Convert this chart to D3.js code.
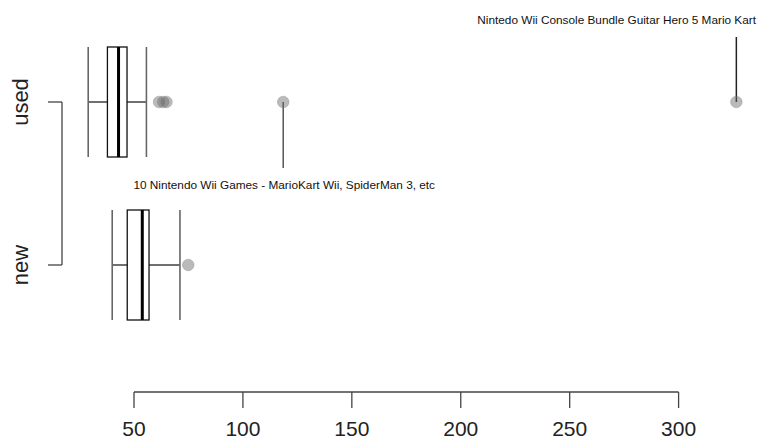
<!DOCTYPE html>
<html><head><meta charset="utf-8">
<script src="https://cdn.jsdelivr.net/npm/d3@7"></script>
<style>body{margin:0;background:#fff;overflow:hidden}svg{display:block}text{font-family:"Liberation Sans",Arial,sans-serif}</style>
</head><body><svg id="c" width="757" height="441"></svg>
<script>
const groups = ["used", "new"];
const lowerWhisker = [28.98, 40.0];
const q1 = [37.8, 46.9];
const median = [42.9, 53.8];
const q3 = [46.8, 56.9];
const upperWhisker = [55.7, 71.1];
const outliersUsed = [61.5, 63.4, 64.9, 118.5, 326.51];
const outliersNew = [74.9];
const xTicks = [50, 100, 150, 200, 250, 300];
const annotations = [
  {group: "used", value: 326.51, text: "Nintedo Wii Console Bundle Guitar Hero 5 Mario Kart", dir: -1},
  {group: "used", value: 118.5, text: "10 Nintendo Wii Games - MarioKart Wii, SpiderMan 3, etc", dir: 1}
];

const svg = d3.select("#c");
const x = d3.scaleLinear().domain([50, 300]).range([134, 678.6]);
const y = d3.scalePoint().domain(groups).range([102, 265]);
const half = 55;

annotations.forEach(a => {
  const cx = x(a.value), cy = y(a.group);
  if (a.dir < 0) {
    svg.append("line").attr("x1", cx).attr("x2", cx).attr("y1", cy).attr("y2", 37)
      .attr("stroke", "#222").attr("stroke-width", 1.5);
    svg.append("text").attr("x", 756).attr("y", 24).attr("text-anchor", "end")
      .attr("font-size", 11.8).attr("fill", "#111").text(a.text);
  } else {
    svg.append("line").attr("x1", cx).attr("x2", cx).attr("y1", cy).attr("y2", 168)
      .attr("stroke", "#555").attr("stroke-width", 1.5);
    svg.append("text").attr("x", cx + 1).attr("y", 189).attr("text-anchor", "middle")
      .attr("font-size", 11.8).attr("fill", "#111").text(a.text);
  }
});

groups.forEach((g, i) => {
  const cy = y(g);
  const gg = svg.append("g");
  gg.append("line").attr("x1", x(lowerWhisker[i])).attr("x2", x(q1[i])).attr("y1", cy).attr("y2", cy)
    .attr("stroke", "#222").attr("stroke-width", 1.3);
  gg.append("line").attr("x1", x(q3[i])).attr("x2", x(upperWhisker[i])).attr("y1", cy).attr("y2", cy)
    .attr("stroke", "#222").attr("stroke-width", 1.3);
  [lowerWhisker[i], upperWhisker[i]].forEach(v => {
    gg.append("line").attr("x1", x(v)).attr("x2", x(v)).attr("y1", cy - half).attr("y2", cy + half)
      .attr("stroke", "#666").attr("stroke-width", 1.6);
  });
  gg.append("rect").attr("x", x(q1[i])).attr("y", cy - half)
    .attr("width", x(q3[i]) - x(q1[i])).attr("height", 2 * half)
    .attr("fill", "none").attr("stroke", "#111").attr("stroke-width", 1.3);
  gg.append("line").attr("x1", x(median[i])).attr("x2", x(median[i])).attr("y1", cy - half).attr("y2", cy + half)
    .attr("stroke", "#000").attr("stroke-width", 3);
  const outs = i === 0 ? outliersUsed : outliersNew;
  gg.selectAll("circle").data(outs).join("circle")
    .attr("cx", d => x(d)).attr("cy", cy).attr("r", 5.8)
    .attr("fill", "#666").attr("fill-opacity", 0.45)
    .attr("stroke", "#888").attr("stroke-opacity", 0.4);
});

const axisY = 392;
svg.append("line").attr("x1", x(50)).attr("x2", x(300)).attr("y1", axisY).attr("y2", axisY)
  .attr("stroke", "#444").attr("stroke-width", 1.3);
svg.selectAll(".xt").data(xTicks).join("line").attr("class", "xt")
  .attr("x1", d => x(d)).attr("x2", d => x(d)).attr("y1", axisY).attr("y2", 408)
  .attr("stroke", "#444").attr("stroke-width", 1.3);
svg.selectAll(".xl").data(xTicks).join("text").attr("class", "xl")
  .attr("x", d => x(d)).attr("y", 436).attr("text-anchor", "middle")
  .attr("font-size", 21).attr("fill", "#222").text(d => d);

const axX = 62;
svg.append("line").attr("x1", axX).attr("x2", axX).attr("y1", y("used")).attr("y2", y("new"))
  .attr("stroke", "#444").attr("stroke-width", 1.3);
groups.forEach(g => {
  svg.append("line").attr("x1", 48).attr("x2", axX).attr("y1", y(g)).attr("y2", y(g))
    .attr("stroke", "#444").attr("stroke-width", 1.3);
  svg.append("text").attr("transform", `translate(28,${y(g)}) rotate(-90)`)
    .attr("text-anchor", "middle").attr("font-size", 22).attr("fill", "#222").text(g);
});
</script></body></html>
